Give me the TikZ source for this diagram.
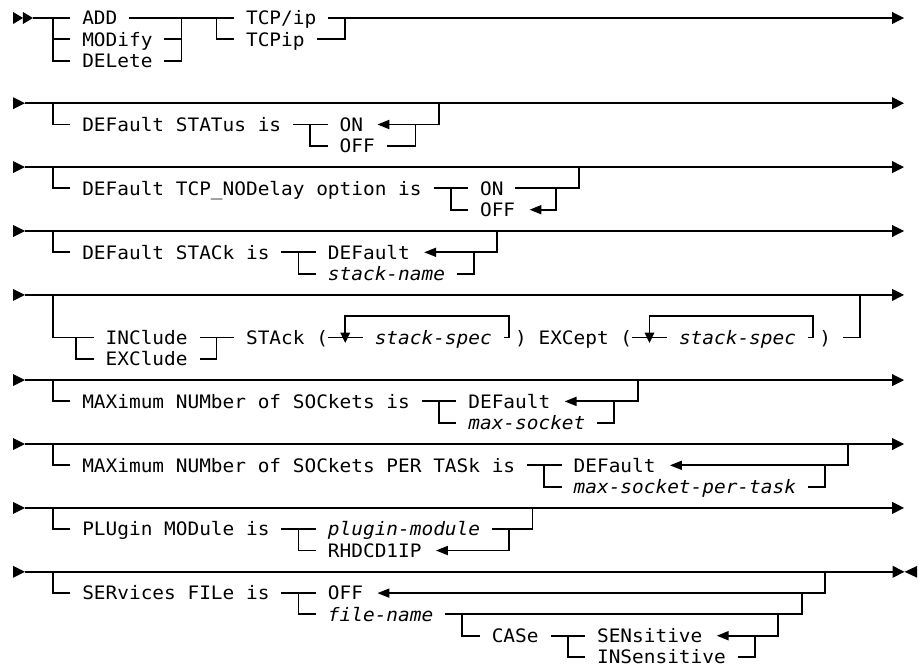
\documentclass[tikz,border=0pt]{standalone}
\usepackage{fontspec}
\usetikzlibrary{arrows.meta}
\newfontfamily\dm[FakeStretch=1.0486]{DejaVu Sans Mono}
\newcommand\cellw{8.775pt}
\newcommand\rtip[2]{\fill (#1) -- ++(-#2,4.5pt) -- ++(0pt,-9pt) -- cycle;}
\newcommand\dtip[1]{\fill ([shift={(-3.75pt,3.75pt)}]#1) -- ([shift={(3.75pt,3.75pt)}]#1) -- ([shift={(0pt,-4.1pt)}]#1) -- cycle;}
\tikzset{
  lbl/.style={anchor=west, inner xsep=\cellw, inner ysep=0pt, text height=10.13pt, text depth=0pt,
    font=\dm\fontsize{13.9pt}{16pt}\selectfont},
  bare/.style={lbl, inner xsep=0pt},
  ln/.style={line width=1.4pt},
  mainln/.style={ln, -{Triangle[length=9pt,width=8.75pt]}},
  dflt/.style={ln, -{Triangle[length=9pt,width=6.75pt]}, shorten >=1.75pt},
}
\begin{document}
\begin{tikzpicture}[x=8.775pt, y=-15.975pt]
\useasboundingbox (-1.0085,-0.845) rectangle (77.45,30.42);

% ---------------- Row 1
\node[lbl] (add)  at (5,0)  {ADD};
\node[lbl] (mod)  at (5,1)  {MODify};
\node[lbl] (del)  at (5,2)  {DELete};
\node[lbl] (tcpa) at (19,0) {TCP/ip};
\node[lbl] (tcpb) at (19,1) {TCPip};
\coordinate (r1m) at (0.96,0);
\coordinate (r1s) at (1.81,0);
\coordinate (r1a) at (3.5,0);
\coordinate (r1b) at (14.5,0);
\coordinate (r1c) at (17.5,0);
\coordinate (r1d) at (28.5,0);
\coordinate (r1e) at (76.26,0);
\rtip{r1m}{7.5pt}
\rtip{r1s}{7.5pt}
\draw[ln] (r1s) -- (add.west);
\draw[ln] (r1a) |- (del.west);
\draw[ln] (r1a |- mod.west) -- (mod.west);
\draw[ln] (add.east) -- (tcpa.west);
\draw[ln] (mod.east) -| (r1b);
\draw[ln] (del.east) -| (r1b);
\draw[ln] (r1c) |- (tcpb.west);
\draw[mainln] (tcpa.east) -- (r1e);
\draw[ln] (tcpb.east) -| (r1d);

% ---------------- Row 2
\node[lbl] (st)     at (5,5)  {DEFault STATus is};
\node[lbl] (ontwo)  at (27,5) {ON};
\node[lbl] (offtwo) at (27,6) {OFF};
\coordinate (r2s) at (1.13,4);
\coordinate (r2e) at (76.26,4);
\coordinate (r2a) at (3.5,4);
\coordinate (r2b) at (25.5,5);
\coordinate (r2c) at (34.5,5);
\coordinate (r2j) at (36.5,4);
\rtip{r2s}{9pt}
\draw[mainln] (r2s) -- (r2e);
\draw[ln] (r2a) |- (st.west);
\draw[ln] (st.east) -- (ontwo.west);
\draw[ln] (r2b) |- (offtwo.west);
\draw[dflt] (r2j) |- (ontwo.east);
\draw[ln] (offtwo.east) -| (r2c);

% ---------------- Row 3
\node[lbl] (nd)       at (5,8)  {DEFault TCP\_NODelay option is};
\node[lbl] (onthree)  at (39,8) {ON};
\node[lbl] (offthree) at (39,9) {OFF};
\coordinate (r3s) at (1.13,7);
\coordinate (r3e) at (76.26,7);
\coordinate (r3a) at (3.5,7);
\coordinate (r3b) at (37.5,8);
\coordinate (r3c) at (46.5,8);
\coordinate (r3j) at (48.5,7);
\rtip{r3s}{9pt}
\draw[mainln] (r3s) -- (r3e);
\draw[ln] (r3a) |- (nd.west);
\draw[ln] (nd.east) -- (onthree.west);
\draw[ln] (r3b) |- (offthree.west);
\draw[ln] (onthree.east) -| (r3j);
\draw[dflt] (r3c) |- (offthree.east);

% ---------------- Row 4
\node[lbl] (sk)      at (5,11)  {DEFault STACk is};
\node[lbl] (deffour) at (26,11) {DEFault};
\node[lbl] (sn)      at (26,12) {\itshape stack-name};
\coordinate (r4s) at (1.13,10);
\coordinate (r4e) at (76.26,10);
\coordinate (r4a) at (3.5,10);
\coordinate (r4b) at (24.5,11);
\coordinate (r4c) at (39.5,11);
\coordinate (r4j) at (41.5,10);
\rtip{r4s}{9pt}
\draw[mainln] (r4s) -- (r4e);
\draw[ln] (r4a) |- (sk.west);
\draw[ln] (sk.east) -- (deffour.west);
\draw[ln] (r4b) |- (sn.west);
\draw[dflt] (r4j) |- (deffour.east);
\draw[ln] (sn.east) -| (r4c);

% ---------------- Row 5
\node[lbl]  (inc)  at (7,15)  {INClude};
\node[lbl]  (exc)  at (7,16)  {EXClude};
\node[bare] (stk)  at (20,15) {STAck (};
\node[lbl]  (ssa)  at (30,15) {\itshape stack-spec};
\node[bare] (exct) at (43,15) {) EXCept (};
\node[lbl]  (ssb)  at (56,15) {\itshape stack-spec};
\node[bare] (rp)   at (69,15) {)};
\coordinate (r5s) at (1.13,13);
\coordinate (r5e) at (76.26,13);
\coordinate (r5a) at (3.5,13);
\coordinate (r5b) at (5.5,15);
\coordinate (r5c) at (17.5,15);
\coordinate (r5j) at (72.5,13);
\coordinate (va) at (28.5,15);
\coordinate (vb) at (54.5,15);
\coordinate (la) at (42.5,14);
\coordinate (lb) at (68.5,14);
\rtip{r5s}{9pt}
\draw[mainln] (r5s) -- (r5e);
\draw[ln] (r5a) |- (inc.west);
\draw[ln] (r5b) |- (exc.west);
\draw[ln] (inc.east) -- ([xshift=-\cellw]stk.west);
\draw[ln] (exc.east) -| (r5c);
\draw[ln] (stk.east) -- (ssa.west);
\draw[ln] (ssa.east) -| (la) -| (va);
\dtip{va}
\draw[ln] (exct.east) -- (ssb.west);
\draw[ln] (ssb.east) -| (lb) -| (vb);
\dtip{vb}
\draw[ln] ([xshift=\cellw]rp.east) -| (r5j);

% ---------------- Row 6
\node[lbl] (mx)     at (5,18)  {MAXimum NUMber of SOCkets is};
\node[lbl] (defsix) at (38,18) {DEFault};
\node[lbl] (ms)     at (38,19) {\itshape max-socket};
\coordinate (r6s) at (1.13,17);
\coordinate (r6e) at (76.26,17);
\coordinate (r6a) at (3.5,17);
\coordinate (r6b) at (36.5,18);
\coordinate (r6c) at (51.5,18);
\coordinate (r6j) at (53.5,17);
\rtip{r6s}{9pt}
\draw[mainln] (r6s) -- (r6e);
\draw[ln] (r6a) |- (mx.west);
\draw[ln] (mx.east) -- (defsix.west);
\draw[ln] (r6b) |- (ms.west);
\draw[dflt] (r6j) |- (defsix.east);
\draw[ln] (ms.east) -| (r6c);

% ---------------- Row 7
\node[lbl] (mxt)      at (5,21)  {MAXimum NUMber of SOCkets PER TASk is};
\node[lbl] (defseven) at (47,21) {DEFault};
\node[lbl] (mspt)     at (47,22) {\itshape max-socket-per-task};
\coordinate (r7s) at (1.13,20);
\coordinate (r7e) at (76.26,20);
\coordinate (r7a) at (3.5,20);
\coordinate (r7b) at (45.5,21);
\coordinate (r7c) at (69.5,21);
\coordinate (r7j) at (71.5,20);
\rtip{r7s}{9pt}
\draw[mainln] (r7s) -- (r7e);
\draw[ln] (r7a) |- (mxt.west);
\draw[ln] (mxt.east) -- (defseven.west);
\draw[ln] (r7b) |- (mspt.west);
\draw[dflt] (r7j) |- (defseven.east);
\draw[ln] (mspt.east) -| (r7c);

% ---------------- Row 8
\node[lbl] (pl) at (5,24)  {PLUgin MODule is};
\node[lbl] (pm) at (26,24) {\itshape plugin-module};
\node[lbl] (rh) at (26,25) {RHDCD1IP};
\coordinate (r8s) at (1.13,23);
\coordinate (r8e) at (76.26,23);
\coordinate (r8a) at (3.5,23);
\coordinate (r8b) at (24.5,24);
\coordinate (r8c) at (42.5,24);
\coordinate (r8j) at (44.5,23);
\rtip{r8s}{9pt}
\draw[mainln] (r8s) -- (r8e);
\draw[ln] (r8a) |- (pl.west);
\draw[ln] (pl.east) -- (pm.west);
\draw[ln] (pm.east) -| (r8j);
\draw[ln] (r8b) |- (rh.west);
\draw[dflt] (r8c) |- (rh.east);

% ---------------- Row 9
\node[lbl] (sv)      at (5,27)  {SERvices FILe is};
\node[lbl] (offnine) at (26,27) {OFF};
\node[lbl] (fn)      at (26,28) {\itshape file-name};
\node[lbl] (cs)      at (40,29) {CASe};
\node[lbl] (sen)     at (49,29) {SENsitive};
\node[lbl] (ins)     at (49,30) {INSensitive};
\coordinate (r9s) at (1.13,26);
\coordinate (r9e) at (76.3,26);
\coordinate (r9a) at (3.5,26);
\coordinate (r9b) at (24.5,27);
\coordinate (r9c) at (67.5,27);
\coordinate (r9d) at (38.5,28);
\coordinate (r9f) at (65.5,28);
\coordinate (r9g) at (47.5,29);
\coordinate (r9h) at (63.5,29);
\coordinate (r9j) at (69.5,26);
\rtip{r9s}{9pt}
\draw[mainln] (r9s) -- (r9e);
\fill (r9e) -- ++(9.4pt,4.4pt) -- ++(0pt,-8.8pt) -- cycle;
\draw[ln] (r9a) |- (sv.west);
\draw[ln] (sv.east) -- (offnine.west);
\draw[dflt] (r9j) |- (offnine.east);
\draw[ln] (r9b) |- (fn.west);
\draw[ln] (fn.east) -| (r9c);
\draw[ln] (r9d) |- (cs.west);
\draw[ln] (cs.east) -- (sen.west);
\draw[ln] (r9g) |- (ins.west);
\draw[dflt] (r9f) |- (sen.east);
\draw[ln] (ins.east) -| (r9h);
\end{tikzpicture}
\end{document}
